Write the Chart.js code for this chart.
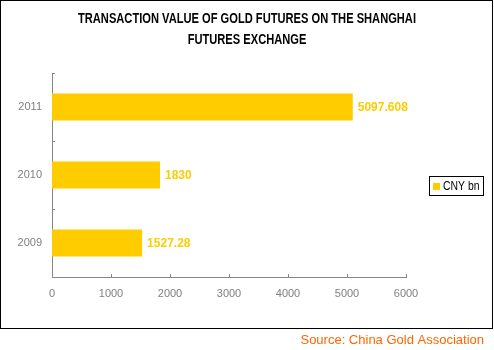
<!DOCTYPE html>
<html lang="en">
<head>
  <meta charset="UTF-8" />
  <title>Transaction value of gold futures on the Shanghai Futures Exchange</title>
  <script src="https://cdn.jsdelivr.net/npm/chart.js"></script>
  <style>
    body { margin: 0; padding: 0; background: #fff; }
    #wrap { width: 494px; height: 350px; }
  </style>
</head>
<body>
<div id="wrap"><canvas id="chart" width="494" height="350"></canvas></div>

<script>
// data
const years = ['2011', '2010', '2009'];
const cnyBn = [5097.608, 1830, 1527.28];
const valueLabels = ['5097.608', '1830', '1527.28'];
const xTicks = [0, 1000, 2000, 3000, 4000, 5000, 6000];
const titleLines = ['TRANSACTION VALUE OF GOLD FUTURES ON THE SHANGHAI', 'FUTURES EXCHANGE'];

const SANS = '"Liberation Sans", Arial, sans-serif';
const GOLD = '#FFCC00';
const AXIS = '#868686';

// the original uses a condensed face; squeeze the text horizontally to match
function fillSqueezed(ctx, text, x, y, sx) {
  ctx.save();
  ctx.translate(x, y);
  ctx.scale(sx, 1);
  ctx.fillText(text, 0, 0);
  ctx.restore();
}

// outer frame, title, short inward tick marks, value labels, legend box and source line
const decorations = {
  id: 'decorations',
  beforeDraw(chart) {
    const ctx = chart.ctx;
    ctx.save();
    ctx.fillStyle = '#fff';
    ctx.fillRect(0, 0, chart.width, chart.height);
    ctx.strokeStyle = '#000';
    ctx.lineWidth = 1;
    ctx.strokeRect(0.5, 0.5, 492, 328);
    ctx.restore();
  },
  afterDraw(chart) {
    const ctx = chart.ctx;
    const x = chart.scales.x;
    const area = chart.chartArea;
    ctx.save();

    // title
    ctx.fillStyle = '#000';
    ctx.font = 'bold 14px ' + SANS;
    ctx.textBaseline = 'middle';
    ctx.textAlign = 'center';
    const sx = 338 / ctx.measureText(titleLines[0]).width;
    titleLines.forEach((t, i) => fillSqueezed(ctx, t, 247, 19 + i * 21, sx));

    ctx.strokeStyle = AXIS;
    ctx.lineWidth = 1;
    ctx.beginPath();
    xTicks.forEach(v => {
      const px = Math.round(x.getPixelForValue(v)) + 0.5;
      ctx.moveTo(px, area.bottom);
      ctx.lineTo(px, area.bottom - 3);
    });
    const n = years.length;
    for (let i = 0; i <= n; i++) {
      const py = Math.round(area.top + (area.bottom - area.top) * i / n) + 0.5;
      ctx.moveTo(area.left, py);
      ctx.lineTo(area.left + 3, py);
    }
    ctx.stroke();

    // value labels
    const meta = chart.getDatasetMeta(0);
    ctx.font = 'bold 12px ' + SANS;
    ctx.fillStyle = GOLD;
    ctx.textAlign = 'left';
    meta.data.forEach((bar, i) => {
      ctx.fillText(valueLabels[i], bar.x + 5, bar.y + 1);
    });

    // legend
    ctx.strokeStyle = '#000';
    ctx.strokeRect(429.5, 176.5, 54, 19);
    ctx.fillStyle = GOLD;
    ctx.fillRect(433, 183, 7, 7);
    ctx.fillStyle = '#000';
    ctx.font = '13px ' + SANS;
    const label = chart.data.datasets[0].label;
    fillSqueezed(ctx, label, 443, 186.5, 36.5 / ctx.measureText(label).width);

    // source
    ctx.font = '13px ' + SANS;
    ctx.fillStyle = '#FF6600';
    ctx.textAlign = 'right';
    ctx.fillText('Source: China Gold Association', 484, 340);
    ctx.restore();
  }
};

new Chart(document.getElementById('chart'), {
  type: 'bar',
  data: {
    labels: years,
    datasets: [{
      label: 'CNY bn',
      data: cnyBn,
      backgroundColor: GOLD,
      borderWidth: 0,
      categoryPercentage: 1,
      barPercentage: 0.4
    }]
  },
  options: {
    indexAxis: 'y',
    responsive: false,
    animation: false,
    layout: { padding: { left: 0, right: 88, top: 73, bottom: 0 } },
    plugins: {
      legend: { display: false },
      tooltip: { enabled: false },
      title: { display: false }
    },
    scales: {
      x: {
        min: 0,
        max: 6000,
        afterBuildTicks: s => { s.ticks = xTicks.map(v => ({ value: v })); },
        afterFit: s => { s.height = 73; },
        grid: { display: false, drawTicks: false },
        border: { color: AXIS },
        ticks: {
          color: '#7f7f7f',
          font: { family: SANS, size: 11 },
          padding: 10,
          callback: v => String(v)
        }
      },
      y: {
        afterFit: s => { s.width = 52; },
        grid: { display: false, drawTicks: false },
        border: { color: AXIS },
        ticks: { color: '#7f7f7f', font: { family: SANS, size: 11 }, padding: 10 }
      }
    }
  },
  plugins: [decorations]
});
</script>
</body>
</html>
